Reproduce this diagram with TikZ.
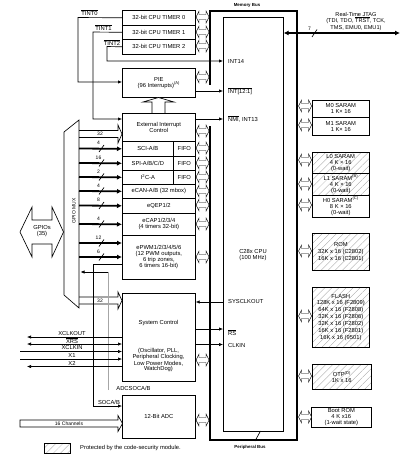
\documentclass[tikz,border=0pt]{standalone}
\usepackage{fontspec}
\setmainfont{Liberation Sans}
\usetikzlibrary{arrows.meta,patterns.meta}
\newcommand\fs{\fontsize{5.8}{6}\selectfont}
\newcommand\fsm{\fontsize{5}{5.5}\selectfont}
\newcommand\ovl[1]{\ensuremath{\overline{\mbox{#1}}}}
\newcommand\bussym[3]{\draw[bsym] ({#1},{#3}) -- ({#1+3},{#3-6}) -- ({#1+3},{#3-2.5}) -- ({#2-3},{#3-2.5}) -- ({#2-3},{#3-6}) -- ({#2},{#3}) -- ({#2-3},{#3+6}) -- ({#2-3},{#3+2.5}) -- ({#1+3},{#3+2.5}) -- ({#1+3},{#3+6}) -- cycle;}
\newcommand\buswidth[3]{\draw[thinline] ({#1-2.5},{#2+3.5}) -- ({#1+2.5},{#2-3.5}); \node[lbl,font=\fsm] (w#2) at ({#1-3},{#2-5.5}) {#3};}
\begin{document}
\begin{tikzpicture}[x=1pt,y=-1pt,
  box/.style={draw,line width=0.65pt,inner sep=0pt,align=center,anchor=north west,font=\fs,minimum width=73pt},
  mem/.style={draw,line width=0.65pt,inner sep=0pt,align=center,anchor=north west,font=\fs,minimum width=57pt},
  hatch/.style={pattern={Lines[angle=45,distance=5pt,line width=0.35pt]},pattern color=black!35},
  lbl/.style={inner sep=0pt,font=\fs},
  thinline/.style={line width=0.65pt},
  sig/.style={line width=0.65pt,-{Latex[length=4pt,width=3.4pt]}},
  sigb/.style={line width=0.65pt,{Latex[length=4pt,width=3.4pt]}-{Latex[length=4pt,width=3.4pt]}},
  fat/.style={line width=1.8pt,-{Latex[length=5pt,width=5pt]}},
  bsym/.style={line width=0.45pt,fill=white},
  bus/.style={line width=2.3pt,line join=miter},
]
\useasboundingbox (0,0) rectangle (412,457);

% ---------- left column boxes
\node[box,minimum height=15pt] (t0) at (122,10) {32-bit CPU TIMER 0};
\node[box,minimum height=14pt] (t1) at (122,25) {32-bit CPU TIMER 1};
\node[box,minimum height=15pt] (t2) at (122,39) {32-bit CPU TIMER 2};
\node[box,minimum height=29pt] (pie) at (122,68) {PIE\\(96 Interrupts)\textsuperscript{(A)}};
\node[box,minimum height=28pt] (ext) at (122,113) {External Interrupt\\Control};
\node[box,minimum height=15pt,minimum width=51pt] (sci) at (122,141) {SCI-A/B};
\node[box,minimum height=15pt,minimum width=22pt] (fifo1) at (173,141) {FIFO};
\node[box,minimum height=14pt,minimum width=51pt] (spi) at (122,156) {SPI-A/B/C/D};
\node[box,minimum height=14pt,minimum width=22pt] (fifo2) at (173,156) {FIFO};
\node[box,minimum height=14pt,minimum width=51pt] (i2c) at (122,170) {I\textsuperscript{2}C-A};
\node[box,minimum height=14pt,minimum width=22pt] (fifo3) at (173,170) {FIFO};
\node[box,minimum height=14pt] (ecan) at (122,184) {eCAN-A/B (32 mbox)};
\node[box,minimum height=15pt] (eqep) at (122,198) {eQEP1/2};
\node[box,minimum height=22pt] (ecap) at (122,213) {eCAP1/2/3/4\\(4 timers 32-bit)};
\node[box,minimum height=44pt] (epwm) at (122,235) {ePWM1/2/3/4/5/6\\(12 PWM outputs,\\6 trip zones,\\6 timers 16-bit)};
\node[box,minimum height=88pt] (sys) at (122,293) {};
\node[lbl] (systitle) at (158.5,323) {System Control};
\node[lbl,align=center,font={\fontsize{5.8}{5.4}\selectfont}] (sysdesc) at (158.5,360) {(Oscillator, PLL,\\Peripheral Clocking,\\Low Power Modes,\\WatchDog)};
\node[box,minimum height=43pt] (adc) at (122,395) {12-Bit ADC};

% ---------- CPU and buses
\node[draw,line width=0.65pt,anchor=north west,minimum width=60pt,minimum height=414pt,inner sep=0pt] (cpu) at (223,17) {};
\node[lbl,align=center] (cputxt) at (253,255) {C28x CPU\\(100 MHz)};
\draw[bus] (210,85) -- (210,11) -- (297,11) -- (297,440) -- (210,440) -- (210,126);
\draw[thinline] (260.5,431) -- (255,441);
\node[lbl,font={\fontsize{4.4}{5}\selectfont\bfseries}] (membus) at (247,5) {Memory Bus};
\node[lbl,font={\fontsize{4.4}{5}\selectfont\bfseries}] (perbus) at (250,447.5) {Peripheral Bus};

% ---------- memories
\node[mem,minimum height=17pt] (m0) at (312,100) {M0 SARAM\\1 K\texttimes{} 16};
\node[mem,minimum height=18pt] (m1) at (312,117) {M1 SARAM\\1 K\texttimes{} 16};
\node[mem,hatch,minimum height=21pt] (l0) at (312,152) {L0 SARAM\\4 K \texttimes{} 16\\(0-wait)};
\node[mem,hatch,minimum height=22pt] (l1) at (312,173) {L1 SARAM\textsuperscript{(B)}\\4 K \texttimes{} 16\\(0-wait)};
\node[mem,minimum height=22pt] (h0) at (312,195) {H0 SARAM\textsuperscript{(C)}\\8 K \texttimes{} 16\\(0-wait)};
\node[mem,hatch,minimum height=37pt,font={\fontsize{5.8}{6.8}\selectfont}] (rom) at (312,233) {ROM\\32K x 16 (C2802)\\16K x 16 (C2801)};
\node[mem,hatch,minimum height=60pt,font={\fontsize{5.8}{6.9}\selectfont}] (flash) at (312,287) {FLASH\\128K x 16 (F2809)\\64K x 16 (F2808)\\32K x 16 (F2806)\\32K x 16 (F2802)\\16K x 16 (F2801)\\16K x 16 (9501)};
\node[mem,hatch,minimum height=25pt,minimum width=59pt] (otp) at (312,364) {OTP\textsuperscript{(D)}\\1K x 16};
\node[mem,minimum height=20pt,minimum width=60pt] (boot) at (311,407) {Boot ROM\\4 K x16\\(1-wait state)};

% ---------- bus connection symbols
\foreach \yy in {17,32,46,77,131,148,163,177,191,205,224,257,360,420} {\bussym{196}{209}{\yy}}
\foreach \yy in {106,125,160,184,205,251,316,376,417} {\bussym{298.5}{311.5}{\yy}}

% ---------- timer interrupts
\draw[sig] (t0.west) -- (78,17.5) -- (78,82) -- (pie.west |- 0,82);
\node[lbl] (tint0) at (89.5,13) {\ovl{TINT0}};
\draw[sig] (t1.west) -- (93,32) -- (93,119) -- (ext.west |- 0,119);
\node[lbl] (tint1) at (103.5,28) {\ovl{TINT1}};
\draw[sig] (t2.west) -- (107,46.5) -- (107,61) -- (cpu.west |- 0,61);
\node[lbl] (tint2) at (112,42.5) {\ovl{TINT2}};
\draw[sig] (pie.east |- 0,91) -- (cpu.west |- 0,91);
\draw[sig] (ext.east |- 0,119) -- (cpu.west |- 0,119);
\node[lbl,anchor=west] (lint14) at (228,62) {INT14};
\node[lbl,anchor=west] (lint121) at (228,91) {\ovl{INT[12:1]}};
\node[lbl,anchor=west] (lnmi) at (228,119) {\ovl{NMI}, INT13};
\coordinate (pietip) at (158.5,97.5);
\draw[thinline,fill=white] (ext.north -| 152,0) -- (152,102) -- (143,102) -- (pietip) -- (174,102) -- (165,102) -- (ext.north -| 165,0);

% ---------- JTAG
\coordinate (jtag) at (400,33);
\draw[line width=1.6pt,{Latex[length=5pt,width=5pt]}-{Latex[length=5pt,width=5pt]}] (cpu.east |- jtag) -- (jtag);
\draw[thinline] (312,37) -- (317,29.5);
\node[lbl,font=\fsm] (j7) at (309.5,29) {7};
\node[lbl,align=center,font={\fontsize{5.6}{6.4}\selectfont}] (jtagtxt) at (356,21.5) {Real-Time JTAG\\(TDI, TDO, \ovl{TRST}, TCK,\\TMS, EMU0, EMU1)};

% ---------- GPIO MUX and GPIOs
\draw[thinline] (64,295) -- (64,132) -- (79,120) -- (79,308) -- cycle;
\node[lbl,rotate=90,font={\fontsize{5}{5}\selectfont}] (muxlbl) at (74,211) {GPIO MUX};
\draw[thinline] (20,232) -- (32,207) -- (32,220) -- (52,220) -- (52,207) -- (63.5,232) -- (52,257) -- (52,244) -- (32,244) -- (32,257) -- cycle;
\node[lbl,align=center] (gpios) at (42,231) {GPIOs\\(35)};

% ---------- peripheral busses from GPIO MUX
\draw[thinline] (79,130.5) -- (118,130.5) -- (118,125) -- (122,134) -- (118,143) -- (118,137.5) -- (79,137.5);
\node[lbl,font=\fsm] (b32a) at (100,134) {32};
\draw[fat] (79,148.5) -- (sci.west); \buswidth{101.5}{148.5}{4}
\draw[fat] (79,163) -- (spi.west); \buswidth{101.5}{163}{16}
\draw[fat] (79,177) -- (i2c.west); \buswidth{101.5}{177}{2}
\draw[fat] (79,191) -- (ecan.west); \buswidth{101.5}{191}{4}
\draw[fat] (79,205.5) -- (eqep.west); \buswidth{101.5}{205.5}{8}
\draw[fat] (79,224) -- (ecap.west); \buswidth{101.5}{224}{4}
\draw[fat] (79,243) -- (epwm.west |- 0,243); \buswidth{101.5}{243}{12}
\draw[fat] (79,257) -- (epwm.west |- 0,257); \buswidth{101.5}{257}{6}
\draw[thinline] (79,297) -- (118,297) -- (118,292) -- (122,300.5) -- (118,309) -- (118,304) -- (79,304);
\node[lbl,font=\fsm] (b32b) at (100,300.5) {32};

% ---------- ADC start-of-conversion lines
\draw[sig] (epwm.west |- 0,264) -- (93,264) -- (93,406) -- (adc.west |- 0,406);
\node[lbl] (soc) at (109,402) {SOCA/B};
\draw[line width=0.65pt,black!35] (108,390) -- (108,272);
\draw[sig] (108,272) -- (80.5,272);
\node[lbl] (adcsoc) at (133.5,388) {ADCSOCA/B};
\draw[thinline] (20,420) -- (118,420) -- (118,415.5) -- (122.5,423.5) -- (118,431.5) -- (118,427) -- (20,427) -- cycle;
\node[lbl,font=\fsm] (ch16) at (69,423.5) {16 Channels};

% ---------- clocks and reset
\draw[sig] (sys.west |- 0,337) -- (27,337);
\node[lbl] (lxclkout) at (72,333.5) {XCLKOUT};
\draw[sigb] (27,344) -- (sys.west |- 0,344);
\node[lbl] (lxrs) at (72,340.5) {\ovl{XRS}};
\draw[sig] (20,351.5) -- (sys.west |- 0,351.5);
\node[lbl] (lxclkin) at (72,348) {XCLKIN};
\draw[sig] (20,359) -- (sys.west |- 0,359);
\node[lbl] (lx1) at (72,355.5) {X1};
\draw[sig] (sys.west |- 0,366.5) -- (27,366.5);
\node[lbl] (lx2) at (72,363) {X2};
\draw[sig] (cpu.west |- 0,302) -- (sys.east |- 0,302);
\node[lbl,anchor=west] (lsysclk) at (228,302) {SYSCLKOUT};
\draw[sig] (sys.east |- 0,329) -- (cpu.west |- 0,329);
\node[lbl,anchor=west] (lrs) at (228,332.5) {\ovl{RS}};
\draw[sig] (sys.east |- 0,344.5) -- (cpu.west |- 0,344.5);
\node[lbl,anchor=west] (lclkin) at (228,345.5) {CLKIN};

% ---------- legend
\node[draw,line width=0.65pt,hatch,anchor=north west,minimum width=26pt,minimum height=10pt,inner sep=0pt] (legbox) at (44,443) {};
\node[lbl,anchor=west] (legtxt) at (80,448) {Protected by the code-security module.};
\end{tikzpicture}
\end{document}
